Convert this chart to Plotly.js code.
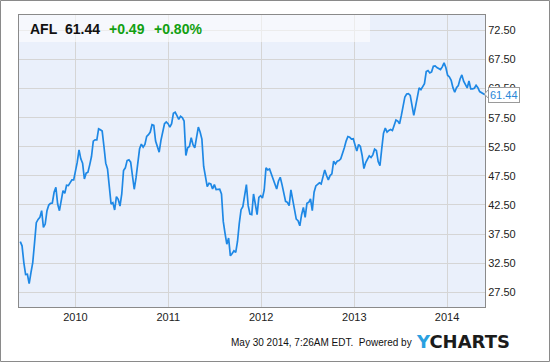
<!DOCTYPE html>
<html>
<head>
<meta charset="utf-8">
<script src="https://cdn.plot.ly/plotly-3.0.1.min.js"></script>
<style>
html,body{margin:0;padding:0;background:#fff;}
#chart{width:550px;height:362px;}
</style>
</head>
<body>
<div id="chart"></div>
<script>
// Weekly closing prices of AFL, starting Friday 2009-05-29
var startDate = "2009-05-29";
var prices = [
36.2, 35.48, 32.61, 30.54, 30.6, 28.99, 30.89, 32.61, 35.94, 39.45,
40.02, 40.37, 41.52, 38.64, 39.22, 41.52, 42.49, 42.78, 42.84, 44.68,
45.54, 42.67, 41.52, 43.53, 44.97, 44.51, 45.89, 45.83, 46.46, 46.81,
46.81, 48.13, 49.85, 51.98, 50.43, 49.68, 46.98, 47.96, 48.13, 49.39,
50.83, 53.47, 53.70, 53.70, 55.60, 55.43, 55.20, 52.55, 49.68, 48.70,
46.12, 42.67, 42.90, 41.64, 43.93, 43.47, 42.32, 44.39, 48.42, 48.88,
50.14, 50.26, 49.85, 47.55, 45.20, 47.15, 50.03, 52.15, 52.96, 52.44,
52.90, 54.28, 54.57, 55.03, 56.29, 56.18, 53.47, 52.55, 51.58, 53.59,
55.08, 56.46, 56.75, 56.46, 55.89, 56.46, 58.24, 58.42, 57.84, 57.21,
57.73, 57.50, 56.92, 51.00, 52.32, 52.55, 54.05, 52.84, 52.32, 54.45,
55.89, 55.03, 53.82, 49.11, 46.98, 45.66, 46.23, 46.12, 45.26, 46.00,
45.14, 45.20, 45.20, 44.39, 39.68, 37.61, 35.77, 36.81, 33.76, 34.16,
34.62, 34.34, 36.23, 39.34, 41.69, 42.21, 44.11, 46.00, 42.38,
40.94, 40.83, 44.39, 42.67, 40.83, 43.81, 44.10, 43.70, 45.08, 48.87,
48.53, 48.70, 47.84, 47.15, 46.23, 45.25, 46.57, 47.26, 46.00, 44.39,
43.12, 42.95, 42.38, 45.08, 43.53, 42.21, 40.08, 39.79, 38.93, 40.83,
42.09, 40.37, 42.78, 42.95, 43.53, 41.52, 44.68, 45.77, 46.00, 46.29,
46.11, 47.38, 48.53, 47.55, 46.80, 47.55, 47.84, 50.02, 49.56, 50.02,
50.14, 50.42, 51.29, 52.32, 53.47, 54.27, 54.16, 53.81, 53.87, 52.89,
51.75, 52.89, 52.55, 51.00, 48.76, 49.79, 50.37, 50.94, 50.65, 51.11,
52.09, 51.86, 49.96, 49.27, 52.15, 54.85, 55.71, 55.02, 55.31, 55.48,
55.31, 56.11, 57.09, 56.92, 56.46, 57.84, 59.22, 61.06, 61.57, 61.63,
61.34, 59.62, 57.89, 59.45, 61.34, 62.61, 62.32, 62.78, 63.35, 65.42,
65.60, 65.19, 65.37, 66.34, 66.40, 66.11, 65.88, 65.77, 66.23, 66.92,
66.11, 64.79, 64.50, 63.93, 62.66, 61.86, 62.66, 63.01, 64.16, 64.85,
63.76, 63.24, 62.61, 63.81, 62.44, 62.44, 62.55, 63.07, 62.66, 61.98,
61.80, 61.57, 61.44
];
var yearTicks = ["2010-01-01", "2011-01-01", "2012-01-01", "2013-01-01", "2014-01-01"];
var yearLabels = ["2010", "2011", "2012", "2013", "2014"];
var priceTicks = [27.5, 32.5, 37.5, 42.5, 47.5, 52.5, 57.5, 62.5, 67.5, 72.5];
var ticker = "AFL";
var lastPrice = "61.44";
var change = "+0.49";
var changePct = "+0.80%";
var footerText = "May 30 2014, 7:26AM EDT.  Powered by";

var dates = [];
var t0 = Date.parse(startDate + "T00:00:00Z");
for (var i = 0; i < prices.length; i++) {
  dates.push(new Date(t0 + i * 7 * 86400000).toISOString().slice(0, 10));
}

var W = 550, H = 362, L = 19, R = 65, T = 15, B = 55;
var pw = W - L - R, ph = H - T - B;
function px(x) { return (x - L) / pw; }
function py(y) { return (H - B - y) / ph; }

var trace = {
  x: dates, y: prices, type: "scatter", mode: "lines",
  line: {color: "#1e88e5", width: 1.7},
  hoverinfo: "skip"
};

var font = "Liberation Sans, Arial, sans-serif";
var layout = {
  width: W, height: H,
  margin: {l: L, r: R, t: T, b: B, pad: 0},
  paper_bgcolor: "#ffffff",
  plot_bgcolor: "#eaf0fb",
  showlegend: false,
  font: {family: font, size: 11, color: "#222"},
  xaxis: {
    type: "date",
    range: ["2009-05-24", "2014-05-30"],
    tickvals: yearTicks, ticktext: yearLabels,
    showgrid: true, gridcolor: "#d5d5d5", gridwidth: 1,
    showline: true, linecolor: "#8a8a8a", linewidth: 1, mirror: true,
    ticks: "", zeroline: false,
    tickfont: {family: font, size: 11, color: "#222"}
  },
  yaxis: {
    side: "right",
    range: [24.97, 75.14],
    tickvals: priceTicks,
    tickformat: ".2f",
    showgrid: true, gridcolor: "#d5d5d5", gridwidth: 1,
    showline: true, linecolor: "#8a8a8a", linewidth: 1, mirror: true,
    ticks: "", zeroline: false,
    tickfont: {family: font, size: 11, color: "#222"}
  },
  shapes: [
    {type: "rect", xref: "paper", yref: "paper", x0: 0, x1: px(370), y0: py(42), y1: 1,
     fillcolor: "rgba(255,255,255,0.55)", line: {width: 0}, layer: "above"},
    {type: "rect", xref: "paper", yref: "paper", x0: px(0.5), x1: px(549.5), y0: py(361.5), y1: py(0.5),
     fillcolor: "rgba(0,0,0,0)", line: {color: "#8a8a8a", width: 1}, layer: "above"},
    {type: "path", xref: "paper", yref: "paper",
     path: "M " + px(488.5) + " " + py(89.5) + " L " + px(484.5) + " " + py(94) + " L " + px(488.5) + " " + py(98.5),
     fillcolor: "#ffffff", line: {color: "#9a9a9a", width: 1}, layer: "above"}
  ],
  annotations: [
    {xref: "paper", yref: "paper", x: px(28), y: py(29), xanchor: "left", yanchor: "middle",
     text: "<b>" + ticker + "</b>", showarrow: false, font: {family: font, size: 14, color: "#111"}},
    {xref: "paper", yref: "paper", x: px(63), y: py(29), xanchor: "left", yanchor: "middle",
     text: "<b>" + lastPrice + "</b>", showarrow: false, font: {family: font, size: 14, color: "#111"}},
    {xref: "paper", yref: "paper", x: px(107), y: py(29), xanchor: "left", yanchor: "middle",
     text: "<b>" + change + "</b>", showarrow: false, font: {family: font, size: 14, color: "#12a012"}},
    {xref: "paper", yref: "paper", x: px(152), y: py(29), xanchor: "left", yanchor: "middle",
     text: "<b>" + changePct + "</b>", showarrow: false, font: {family: font, size: 14, color: "#12a012"}},
    {xref: "x", yref: "y", x: dates[dates.length - 1], y: prices[prices.length - 1],
     xanchor: "left", yanchor: "middle", xshift: 3,
     text: lastPrice, showarrow: false, bgcolor: "#ffffff", bordercolor: "#9a9a9a", borderwidth: 1, borderpad: 1,
     font: {family: font, size: 11, color: "#2a88d8"}},
    {xref: "paper", yref: "paper", x: px(414), y: py(342), xanchor: "right", yanchor: "middle",
     text: footerText.replace("  ", "&nbsp; "), showarrow: false, font: {family: font, size: 10, color: "#111"}},
    {xref: "paper", yref: "paper", x: px(414), y: py(341), xanchor: "left", yanchor: "middle",
     text: "<b><span style='color:#2aa0e0'>Y</span>CHARTS</b>", showarrow: false,
     font: {family: "DejaVu Sans, sans-serif", size: 18, color: "#1b1b1b"}}
  ]
};

Plotly.newPlot("chart", [trace], layout, {staticPlot: true, displayModeBar: false});
</script>
</body>
</html>
